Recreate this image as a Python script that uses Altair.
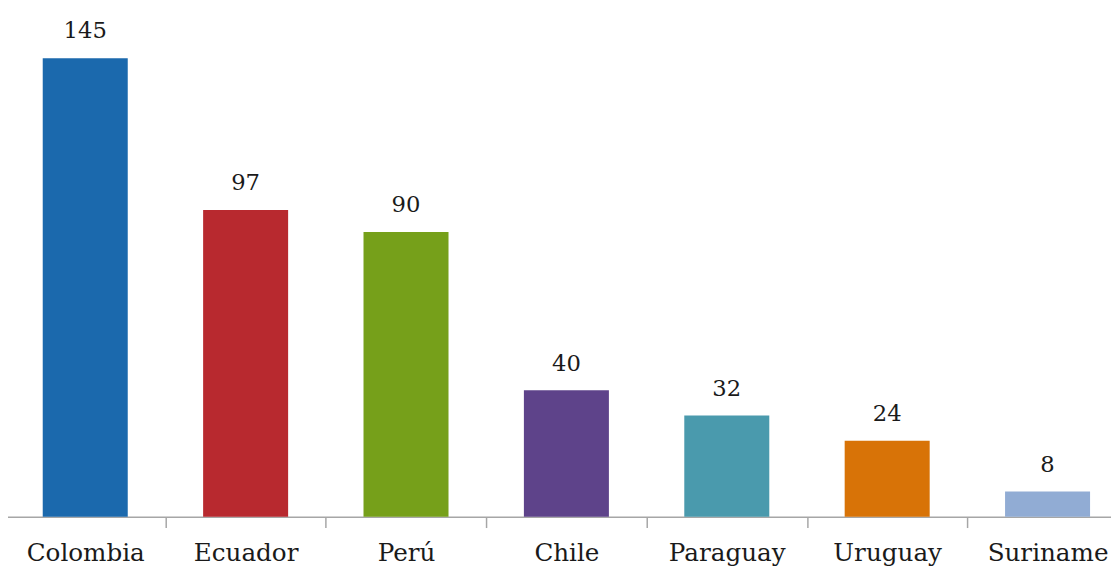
import altair as alt
import pandas as pd

countries = ["Colombia", "Ecuador", "Perú", "Chile", "Paraguay", "Uruguay", "Suriname"]
values = [145, 97, 90, 40, 32, 24, 8]
colors = ["#1B69AD", "#B8292F", "#76A01A", "#5E438A", "#4A9AAD", "#D87307", "#91ACD4"]

df = pd.DataFrame({"country": countries, "value": values})

x = alt.X("country:N", sort=countries, title=None,
          scale=alt.Scale(range=[-3, 1136], paddingInner=0, paddingOuter=0),
          axis=alt.Axis(labelAngle=0, labelFont="DejaVu Serif", labelFontSize=25,
                        labelColor="#1a1a1a", domainColor="#A6A6A6", tickColor="#A6A6A6",
                        tickSize=11, tickBand="extent", labelPadding=13, domainWidth=1.5,
                        tickWidth=1.5))
y = alt.Y("value:Q", title=None, scale=alt.Scale(domain=[0, 159.6], nice=False),
          axis=None)

bars = alt.Chart(df).mark_bar(width=alt.RelativeBandSize(0.53)).encode(
    x=x, y=y,
    color=alt.Color("country:N", sort=countries,
                    scale=alt.Scale(domain=countries, range=colors), legend=None),
)
labels = alt.Chart(df).mark_text(font="DejaVu Serif", fontSize=23, color="#1a1a1a",
                                 baseline="alphabetic", dy=-20).encode(
    x=alt.X("country:N", sort=countries), y="value:Q", text="value:Q"
)

chart = (bars + labels).properties(
    width=1119, height=512,
    padding={"left": 0, "top": 0, "right": 0, "bottom": 51},
    autosize=alt.AutoSizeParams(type="none"),
    background="white",
).configure_view(stroke=None)

chart.save("out.html", embed_options={"renderer": "svg", "actions": False})
